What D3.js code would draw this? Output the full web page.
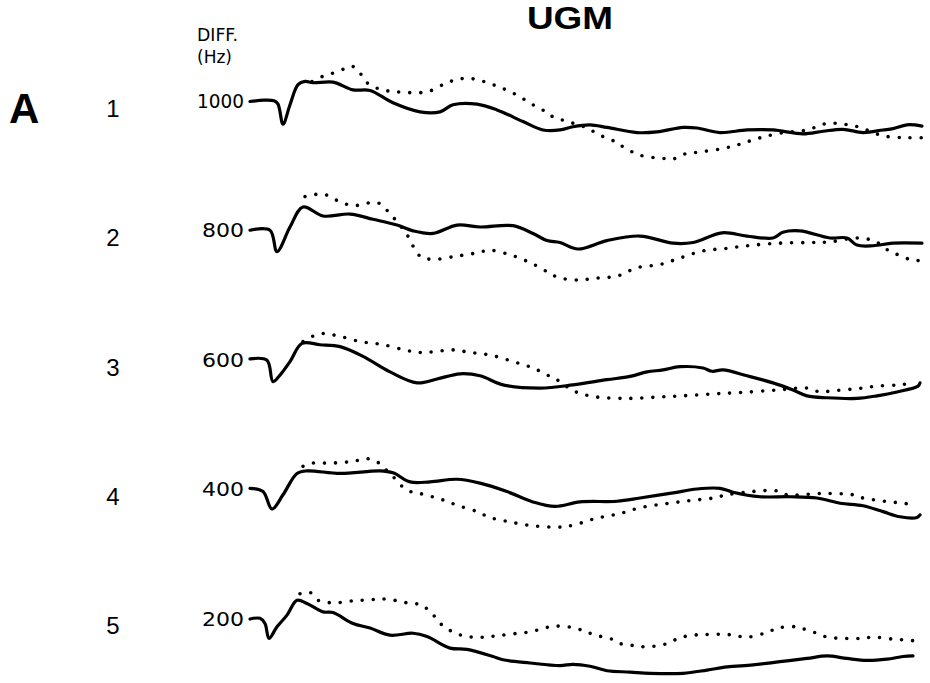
<!DOCTYPE html>
<html>
<head>
<meta charset="utf-8">
<script src="https://cdn.jsdelivr.net/npm/d3@7"></script>
<style>
  body { margin: 0; background: #fff; }
  svg { display: block; font-family: "Liberation Sans", Arial, sans-serif; }
</style>
</head>
<body>
<div id="chart"></div>
<script>
const baselines = [1000, 800, 600, 400, 200];
const rowLabels = ["1", "2", "3", "4", "5"];

// [time (ms), deviation from baseline (Hz)]
const solid1 = [[0,0],[7,2],[12,1],[14,-4],[16.5,-35],[20,-5],[24,26],[27.5,31],[31.5,29],[41.5,30],[51.5,18],[60,17],[71.5,-2],[85,-16],[95,-16],[101.5,-5],[113.5,-4],[123.5,-13],[136.5,-31],[146.5,-44],[155,-44],[161.5,-39],[170,-36],[178.5,-40],[193.5,-48],[203.5,-47],[216.5,-40],[223.5,-41],[235,-48],[248.5,-44],[261.5,-44],[276.5,-50],[286.5,-46],[296.5,-43],[306.5,-48],[316.5,-44],[321.5,-42],[328.5,-36],[336,-38]];
const dotted1 = [[31,31],[36.5,39],[43.5,46],[48.5,52],[51.5,54],[55,44],[58.5,29],[65,19],[73.5,15],[88.5,15],[98.5,29],[105,35],[111.5,35],[121.5,26],[131.5,13],[141.5,-5],[149,-18],[152.5,-26],[158.5,-30],[163.5,-36],[169,-41],[173.5,-50],[182.5,-62],[186.5,-70],[195,-83],[206.5,-88],[211.5,-89],[217.5,-81],[225,-78],[236,-73],[245,-66],[254,-57],[265,-49],[278.5,-44],[288.5,-34],[296.5,-35],[305,-40],[316.5,-53],[328.5,-56],[336.5,-56]];

const solid2 = [[0,1],[10,1],[13.5,-32],[20,6],[26.5,37],[36.5,23],[50,26],[61.5,18],[73.5,9],[81.5,0],[91.5,-4],[103.5,9],[115,6],[131.5,8],[141.5,-4],[148.5,-15],[155,-18],[164,-28],[178.5,-15],[195,-8],[211.5,-19],[221.5,-18],[236,-3],[248.5,-8],[261.5,-11],[266.5,-2],[275,0],[290,-11],[298.5,-11],[303.5,-22],[311.5,-23],[321.5,-19],[336,-19]];
const dotted2 = [[27.5,53],[36.5,57],[41.5,50],[46.5,43],[51.5,39],[56.5,41],[61,44],[65,42],[69,30],[73.5,14],[78.5,-6],[85,-39],[91,-44],[103.5,-39],[113.5,-34],[120,-30],[130,-37],[140,-49],[148.5,-63],[154,-72],[163.5,-76],[173.5,-73],[183.5,-70],[193.5,-57],[205,-52],[215,-42],[226.5,-31],[238.5,-27],[248.5,-23],[265,-19],[280,-18],[290,-17],[303.5,-11],[312.5,-16],[319,-30],[324,-37],[331,-45],[336,-46]];

const solid3 = [[0,2],[8.5,0],[11.5,-33],[15,-23],[20,-2],[26,26],[35,24],[45,21],[56.5,6],[70,-18],[83.5,-35],[93.5,-29],[105,-21],[115,-24],[126.5,-38],[145,-43],[161.5,-38],[178.5,-30],[190,-25],[198.5,-18],[206.5,-15],[215,-10],[226.5,-12],[231,-17],[236.5,-15],[248.5,-24],[261.5,-35],[271.5,-46],[278.5,-55],[288.5,-58],[303.5,-59],[313.5,-55],[323.5,-49],[334,-40],[335,-35]];
const dotted3 = [[26.5,29],[35,41],[43.5,38],[55,29],[66.5,24],[78.5,15],[85,12],[91.5,13],[101.5,16],[110,12],[120,8],[131.5,-2],[141.5,-12],[150,-25],[155,-33],[161.5,-47],[171.5,-56],[188.5,-59],[203.5,-57],[216.5,-55],[231.5,-52],[245,-50],[263.5,-46],[278.5,-43],[285,-49],[291.5,-47],[303.5,-44],[313.5,-40],[325,-38],[331.5,-35]];

const solid4 = [[0,2],[6.5,-3],[11,-30],[16.5,-8],[23.5,25],[28.5,29],[45,25],[65,29],[71.5,26],[80,12],[90,12],[103.5,16],[115,10],[128.5,-3],[141.5,-19],[152.5,-26],[165,-19],[183.5,-18],[195,-13],[211.5,-5],[223.5,1],[235,2],[241.5,-4],[255,-11],[270,-11],[283.5,-13],[295,-21],[306.5,-25],[316.5,-34],[325,-42],[333.5,-43],[335,-39]];
const dotted4 = [[26.5,36],[31.5,41],[38.5,41],[46.5,42],[53.5,45],[58.5,48],[63.5,43],[66.5,35],[71.5,20],[78.5,-1],[85,-6],[96.5,-16],[103.5,-24],[113.5,-34],[120,-43],[130,-50],[141.5,-56],[153.5,-58],[158.5,-57],[165,-52],[171,-46],[176.5,-42],[185,-37],[195,-28],[207.5,-22],[220,-17],[231.5,-13],[238.5,-8],[251,-3],[263.5,-2],[268.5,-8],[286.5,-6],[301.5,-8],[306.5,-13],[317.5,-18],[326.5,-21],[331,-23]];

const solid5 = [[0,0],[5,1],[7.5,-7],[9.5,-30],[13.5,-12],[18.5,6],[23.5,29],[28.5,24],[36.5,11],[41.5,10],[51.5,-7],[60,-14],[70,-25],[81.5,-22],[88.5,-27],[100,-45],[108.5,-47],[121.5,-58],[126.5,-63],[140,-68],[155,-72],[161.5,-70],[170,-73],[178.5,-80],[190,-82],[200,-84],[216.5,-84],[228.5,-79],[238.5,-74],[251.5,-71],[265,-66],[278.5,-61],[288.5,-57],[298.5,-61],[308.5,-64],[318.5,-62],[326.5,-58],[331.5,-57]];
const dotted5 = [[25,39],[30,41],[34,29],[41.5,25],[51.5,28],[61,30],[66.5,31],[74,28],[80,24],[86,22],[89,14],[93.5,0],[96.5,-11],[101.5,-20],[106.5,-26],[111.5,-28],[117.5,-28],[123.5,-26],[131.5,-23],[140,-20],[148.5,-13],[153.5,-11],[161,-13],[167.5,-19],[172.5,-25],[180,-30],[185,-38],[191.5,-41],[197.5,-43],[207.5,-39],[213.5,-31],[219,-26],[227.5,-24],[239,-24],[249,-28],[259,-20],[264,-14],[272.5,-12],[277.5,-16],[282.5,-21],[288.5,-28],[297.5,-30],[306,-30],[311.5,-28],[321,-31],[330,-33],[332.5,-34]];

const solids = [solid1, solid2, solid3, solid4, solid5];
const dotteds = [dotted1, dotted2, dotted3, dotted4, dotted5];

const width = 930,
  height = 683;

const svg = d3
  .select("#chart")
  .append("svg")
  .attr("width", width)
  .attr("height", height);

const x = d3.scaleLinear().domain([0, 340]).range([250, 930]);
const y = d3.scaleLinear().domain([200, 1000]).range([619, 101.5]);

const yAxis = svg
  .append("g")
  .attr("transform", "translate(247,0)")
  .call(
    d3
      .axisLeft(y)
      .tickValues(baselines)
      .tickFormat(d3.format("d"))
      .tickSize(0)
      .tickPadding(3)
  );
yAxis.select(".domain").remove();
yAxis
  .selectAll("text")
  .attr("fill", "#000")
  .style("font-family", "'DejaVu Sans', sans-serif")
  .style("font-size", "19px")
  .attr("textLength", (d) => (d >= 1000 ? 47 : 42))
  .attr("lengthAdjust", "spacingAndGlyphs");

const trace = (base) =>
  d3
    .line()
    .x((d) => x(d[0]))
    .y((d) => y(base + d[1]))
    .curve(d3.curveCatmullRom.alpha(0.5));

baselines.forEach((base, i) => {
  svg
    .append("path")
    .datum(dotteds[i])
    .attr("d", trace(base))
    .attr("fill", "none")
    .attr("stroke", "#000")
    .attr("stroke-width", 3.6)
    .attr("stroke-linecap", "round")
    .attr("stroke-dasharray", "0,11");

  svg
    .append("path")
    .datum(solids[i])
    .attr("d", trace(base))
    .attr("fill", "none")
    .attr("stroke", "#000")
    .attr("stroke-width", 3.2)
    .attr("stroke-linejoin", "round")
    .attr("stroke-linecap", "round");
});

svg
  .selectAll(".row")
  .data(rowLabels)
  .enter()
  .append("text")
  .attr("class", "row")
  .attr("x", 113)
  .attr("y", (d, i) => y(baselines[i]) + 9)
  .attr("text-anchor", "middle")
  .attr("dominant-baseline", "middle")
  .style("font-size", "24px")
  .text((d) => d);

svg
  .append("text")
  .attr("x", 9)
  .attr("y", 123)
  .style("font-size", "42px")
  .style("font-weight", "bold")
  .text("A");

svg
  .append("text")
  .attr("x", 570)
  .attr("y", 29)
  .attr("text-anchor", "middle")
  .style("font-size", "32px")
  .style("font-weight", "bold")
  .attr("textLength", 86)
  .attr("lengthAdjust", "spacingAndGlyphs")
  .text("UGM");

svg
  .append("text")
  .attr("x", 197)
  .attr("y", 41)
  .style("font-family", "'DejaVu Sans', sans-serif")
  .style("font-size", "18px")
  .attr("textLength", 41)
  .attr("lengthAdjust", "spacingAndGlyphs")
  .text("DIFF.");

svg
  .append("text")
  .attr("x", 197)
  .attr("y", 63)
  .style("font-family", "'DejaVu Sans', sans-serif")
  .style("font-size", "18px")
  .attr("textLength", 35)
  .attr("lengthAdjust", "spacingAndGlyphs")
  .text("(Hz)");
</script>
</body>
</html>
